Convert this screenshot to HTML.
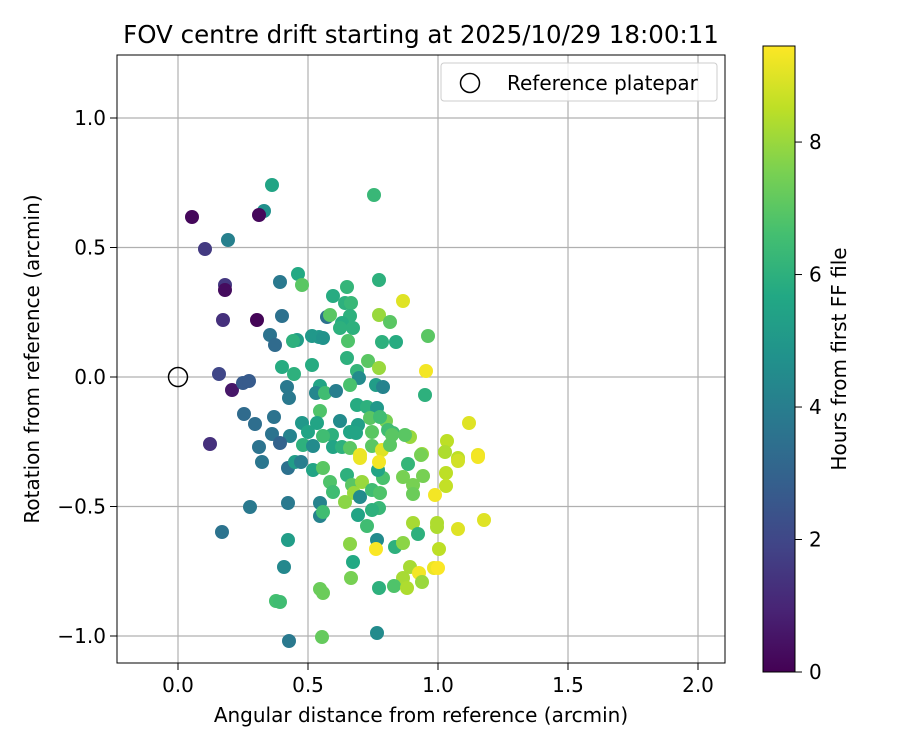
<!DOCTYPE html>
<html><head><meta charset="utf-8"><style>
body{margin:0;background:#fff;}
svg text{font-family:"DejaVu Sans","Liberation Sans",sans-serif;fill:#000;}
</style></head><body>
<svg id="chart" width="900" height="750" viewBox="0 0 900 750" xmlns="http://www.w3.org/2000/svg">
<defs>
<linearGradient id="vir" x1="0" y1="1" x2="0" y2="0">
<stop offset="0" stop-color="#440154"/><stop offset="0.1" stop-color="#482475"/><stop offset="0.2" stop-color="#414487"/><stop offset="0.3" stop-color="#355f8d"/><stop offset="0.4" stop-color="#2a788e"/><stop offset="0.5" stop-color="#21918c"/><stop offset="0.6" stop-color="#22a884"/><stop offset="0.7" stop-color="#44bf70"/><stop offset="0.8" stop-color="#7ad151"/><stop offset="0.9" stop-color="#bddf26"/><stop offset="1" stop-color="#fde725"/>
</linearGradient>
<clipPath id="clip"><rect x="117" y="55" width="608" height="608"/></clipPath>
</defs>
<rect x="0" y="0" width="900" height="750" fill="#fff"/>
<text x="421" y="43" font-size="24.5" text-anchor="middle">FOV centre drift starting at 2025/10/29 18:00:11</text>
<g id="grid"></g>
<g id="points" clip-path="url(#clip)"></g>
<circle id="refpt" r="9.5" fill="none" stroke="#000" stroke-width="1.5"/>
<rect x="117" y="55" width="608" height="608" fill="none" stroke="#000" stroke-width="1"/>
<g id="ticks"></g>
<text x="421" y="722" font-size="20" text-anchor="middle">Angular distance from reference (arcmin)</text>
<text x="39" y="359" font-size="20" text-anchor="middle" transform="rotate(-90 39 359)">Rotation from reference (arcmin)</text>
<g>
<rect x="441" y="63" width="276" height="38" rx="3" fill="#fff" fill-opacity="0.8" stroke="#ccc"/>
<circle cx="470" cy="83" r="9.5" fill="none" stroke="#000" stroke-width="1.5"/>
<text x="507" y="90" font-size="20">Reference platepar</text>
</g>
<rect x="763" y="46" width="32" height="626" fill="url(#vir)" stroke="#000" stroke-width="1"/>
<g id="cticks"></g>
<text x="846" y="359" font-size="20" text-anchor="middle" transform="rotate(-90 846 359)">Hours from first FF file</text>
</svg>
<script>
const xTicks=[0.0,0.5,1.0,1.5,2.0];
const xTickLabels=["0.0","0.5","1.0","1.5","2.0"];
const yTicks=[-1.0,-0.5,0.0,0.5,1.0];
const yTickLabels=["\u22121.0","\u22120.5","0.0","0.5","1.0"];
const cTicks=[0,2,4,6,8];
// points: angular distance (arcmin), rotation (arcmin), hours
const pxs=[192,205,228,264,259,272,374,225,225,223,257,280,270,275,298,219,232,243,249,244,255,259,262,272,274,210,222,250,276,284,
302,347,379,333,345,351,403,282,327,330,350,379,390,342,353,340,312,319,323,297,293,348,382,396,428,347,368,379,282,312,294,357,359,426,350,320,316,325,336,287,289,376,383,425,357,367,377,320,370,386,380,340,302,317,358,308,350,356,372,388,393,392,410,405,332,323,290,280,303,313,333,342,350,360,372,382,390,447,445,458,469,478,422,
288,295,301,313,323,330,333,347,352,362,354,345,360,372,380,383,378,360,379,408,421,403,423,413,413,446,446,435,458,478,288,320,320,323,358,367,379,372,413,418,437,437,458,484,288,350,377,376,395,403,353,439,410,419,403,422,434,438,351,320,323,379,394,407,280,289,322,377];
const pys=[217,249,240,211,215,185,195,285,290,320,320,282,335,345,274,374,390,383,381,414,424,447,462,434,417,444,532,507,601,567,
285,287,280,296,303,303,301,316,317,315,316,315,322,323,328,328,336,337,338,340,341,341,342,342,336,358,361,368,367,365,374,371,378,371,385,386,393,393,391,387,398,385,387,395,405,407,408,411,418,421,417,421,423,423,425,432,432,433,432,430,433,435,437,435,435,436,436,443,445,446,447,447,448,455,446,450,445,441,452,458,423,455,454,
468,462,462,470,468,482,492,475,485,482,493,502,497,490,493,478,470,458,462,464,455,477,476,485,494,473,486,495,461,457,503,503,516,512,515,526,508,510,523,534,523,527,529,520,540,544,540,549,547,543,562,549,567,573,578,582,568,568,578,589,593,588,586,588,602,641,637,633];
const hours=[0.2,1.6,4.1,4.7,0.2,5.5,6.3,1.5,0.3,1.3,0.1,3.8,3.6,3.3,5.7,2.0,0.6,2.7,2.7,3.3,3.4,3.6,3.7,3.6,3.6,1.3,3.6,3.8,6.6,4.4,
7,6.2,6,5.8,6,6.3,9,3.5,3.5,7,6,8,7,5.8,6,6,5,5,4.8,5.2,6,6.8,6,5.8,7,6,7,8,5.8,5.8,6,6.2,4.5,9.3,6.7,5.5,4.3,6.5,4,3.8,3.8,5.2,4.2,6,5.8,6,5,6.8,7,7.5,6.5,4.5,5,5.5,5.3,5.5,5.5,5.5,7,6.5,6.5,7,8,7,6,6.5,4.2,3,6,4.5,5.5,6,7,9.2,7,9,7,8.5,8.3,8.5,9,9.2,8,
3.5,5.2,4,5.5,7,6.8,6.5,6,7,8,8,7.8,4.5,6.5,6.8,6.7,5.5,9.2,9.3,6.2,7.5,7.5,7.5,7.5,7.3,8.5,8.6,9.3,8.8,9.3,3.8,4.2,4.2,6.5,5.5,6.5,6.3,6,8.2,6,8.3,8.3,9,9,5.2,7.8,4.5,9.4,6,7.8,5.7,8.5,8.2,9.3,8.2,8,9.2,9.4,7.5,7.3,7.3,6,6.8,8.3,6.5,3.8,7.2,4.5];
const angDist=pxs.map(p=>(p-178)/260);
const rotation=pys.map(p=>(377-p)/259);

const X0=117,X1=725,Y0=55,Y1=663;
const xMin=-0.2346,xMax=2.1038,yMin=-1.1042,yMax=1.2432;
const cMin=0,cMax=9.45;
function sx(v){return X0+(v-xMin)/(xMax-xMin)*(X1-X0);}
function sy(v){return Y1-(v-yMin)/(yMax-yMin)*(Y1-Y0);}
function sc(v){return 672-(v-cMin)/(cMax-cMin)*626;}
const vir=["#440154","#482475","#414487","#355f8d","#2a788e","#21918c","#22a884","#44bf70","#7ad151","#bddf26","#fde725"];
function hex2(h){return [1,3,5].map(i=>parseInt(h.substr(i,2),16));}
function cmap(v){let t=Math.max(0,Math.min(1,(v-cMin)/(cMax-cMin)))*10;let i=Math.min(9,Math.floor(t));let f=t-i;
 const a=hex2(vir[i]),b=hex2(vir[i+1]);return "rgb("+a.map((c,k)=>Math.round(c+(b[k]-c)*f)).join(",")+")";}
const NS="http://www.w3.org/2000/svg";
function mk(tag,attrs,parent){const e=document.createElementNS(NS,tag);for(const k in attrs)e.setAttribute(k,attrs[k]);parent.appendChild(e);return e;}
const grid=document.getElementById("grid"),ticks=document.getElementById("ticks"),pts=document.getElementById("points"),ct=document.getElementById("cticks");
xTicks.forEach((v,i)=>{const x=sx(v);
 const g=mk("line",{x1:x,x2:x,y1:Y0,y2:Y1,stroke:"#b0b0b0","stroke-width":1.2},grid);
 
 
 const t=mk("line",{x1:x,x2:x,y1:Y1,y2:Y1+7,stroke:"#000"},ticks);
 
 
 const l=mk("text",{x:x,y:Y1+29,"font-size":20,"text-anchor":"middle"},ticks);l.textContent=xTickLabels[i];
 
 
});
yTicks.forEach((v,i)=>{const y=sy(v);
 const g=mk("line",{x1:X0,x2:X1,y1:y,y2:y,stroke:"#b0b0b0","stroke-width":1.2},grid);
 
 
 const t=mk("line",{x1:X0-7,x2:X0,y1:y,y2:y,stroke:"#000"},ticks);
 
 
 const l=mk("text",{x:X0-11,y:y+7,"font-size":20,"text-anchor":"end"},ticks);l.textContent=yTickLabels[i];
 
 
});
angDist.forEach((v,i)=>{
 const c=mk("circle",{cx:sx(v),cy:sy(rotation[i]),r:7,fill:cmap(hours[i])},pts);
 
 
});
const rp=document.getElementById("refpt");rp.setAttribute("cx",sx(0));rp.setAttribute("cy",sy(0));
cTicks.forEach(v=>{const y=sc(v);
 const t=mk("line",{x1:795,x2:802,y1:y,y2:y,stroke:"#000"},ct);
 
 
 const l=mk("text",{x:809,y:y+7,"font-size":20},ct);l.textContent=String(v);
 
 
});
</script>
</body></html>
